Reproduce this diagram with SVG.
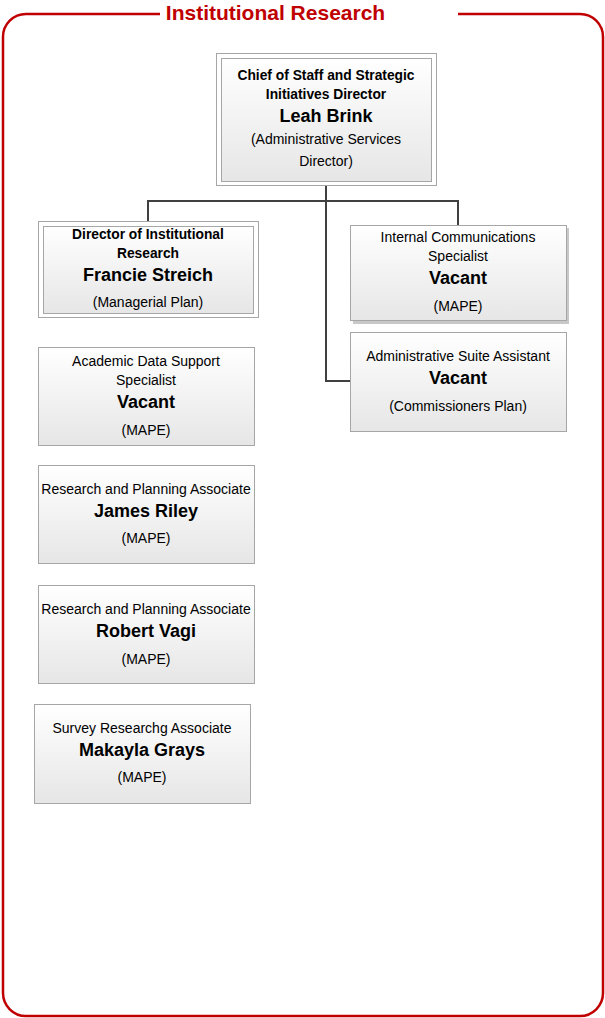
<svg xmlns="http://www.w3.org/2000/svg" width="605" height="1018" viewBox="0 0 605 1018">
<defs>
<linearGradient id="g" x1="0" y1="0" x2="0" y2="1">
<stop offset="0" stop-color="#ffffff"/>
<stop offset="1" stop-color="#e6e6e6"/>
</linearGradient>
<style>
.box{fill:url(#g);stroke:#a6a6a6;stroke-width:1}
.outer{fill:#ffffff;stroke:#a6a6a6;stroke-width:1}
.shadow{fill:#c8c8c8}
.t{font-family:"Liberation Sans",Arial,sans-serif;font-size:14px;fill:#000;text-anchor:middle}
.b{font-weight:bold;font-size:13.8px}
.n{font-family:"Liberation Sans",Arial,sans-serif;font-size:18px;font-weight:bold;fill:#000;text-anchor:middle}
.conn{fill:none;stroke:#404040;stroke-width:2}
</style>
</defs>
<rect width="605" height="1018" fill="#ffffff"/>
<g id="frame">
<path d="M160,14 H26 A23,23 0 0 0 3,37 V993 A23,23 0 0 0 26,1016 H580 A23,23 0 0 0 603,993 V37 A23,23 0 0 0 580,14 H458" fill="none" stroke="#c00000" stroke-width="2.5"/>
<text x="275.5" y="20" font-family="Liberation Sans,Arial,sans-serif" font-size="21" font-weight="bold" fill="#c00000" text-anchor="middle">Institutional Research</text>
</g>
<g id="connectors">
<path class="conn" d="M326,185 V381 H350"/>
<path class="conn" d="M148,222 V201 H458 V225"/>
</g>
<g id="n-chief">
<rect class="outer" x="216.5" y="53.5" width="220" height="132"/>
<rect class="box" x="221.5" y="58.5" width="210" height="123"/>
<text class="t b" x="326" y="80">Chief of Staff and Strategic</text>
<text class="t b" x="326" y="99">Initiatives Director</text>
<text class="n" x="326" y="122">Leah Brink</text>
<text class="t" x="326" y="144">(Administrative Services</text>
<text class="t" x="326" y="166">Director)</text>
</g>
<g id="n-director">
<rect class="outer" x="38.5" y="221.5" width="220" height="96"/>
<rect class="box" x="43.5" y="226.5" width="210" height="87"/>
<text class="t b" x="148" y="239">Director of Institutional</text>
<text class="t b" x="148" y="258">Research</text>
<text class="n" x="148" y="281">Francie Streich</text>
<text class="t" x="148" y="307">(Managerial Plan)</text>
</g>
<g id="n-internal">
<rect class="shadow" x="353" y="228" width="216" height="96"/>
<rect class="box" x="350.5" y="225.5" width="216" height="95"/>
<text class="t" x="458" y="242">Internal Communications</text>
<text class="t" x="458" y="261">Specialist</text>
<text class="n" x="458" y="284">Vacant</text>
<text class="t" x="458" y="311">(MAPE)</text>
</g>
<g id="n-admin">
<rect class="box" x="350.5" y="332.5" width="216" height="99"/>
<text class="t" x="458" y="361">Administrative Suite Assistant</text>
<text class="n" x="458" y="384">Vacant</text>
<text class="t" x="458" y="411">(Commissioners Plan)</text>
</g>
<g id="n-academic">
<rect class="box" x="38.5" y="347.5" width="216" height="98"/>
<text class="t" x="146" y="366">Academic Data Support</text>
<text class="t" x="146" y="385">Specialist</text>
<text class="n" x="146" y="408">Vacant</text>
<text class="t" x="146" y="435">(MAPE)</text>
</g>
<g id="n-riley">
<rect class="box" x="38.5" y="465.5" width="216" height="98"/>
<text class="t" x="146" y="494">Research and Planning Associate</text>
<text class="n" x="146" y="517">James Riley</text>
<text class="t" x="146" y="543">(MAPE)</text>
</g>
<g id="n-vagi">
<rect class="box" x="38.5" y="585.5" width="216" height="98"/>
<text class="t" x="146" y="614">Research and Planning Associate</text>
<text class="n" x="146" y="637">Robert Vagi</text>
<text class="t" x="146" y="664">(MAPE)</text>
</g>
<g id="n-grays">
<rect class="box" x="34.5" y="704.5" width="216" height="99"/>
<text class="t" x="142" y="733">Survey Researchg Associate</text>
<text class="n" x="142" y="756">Makayla Grays</text>
<text class="t" x="142" y="782">(MAPE)</text>
</g>
</svg>
